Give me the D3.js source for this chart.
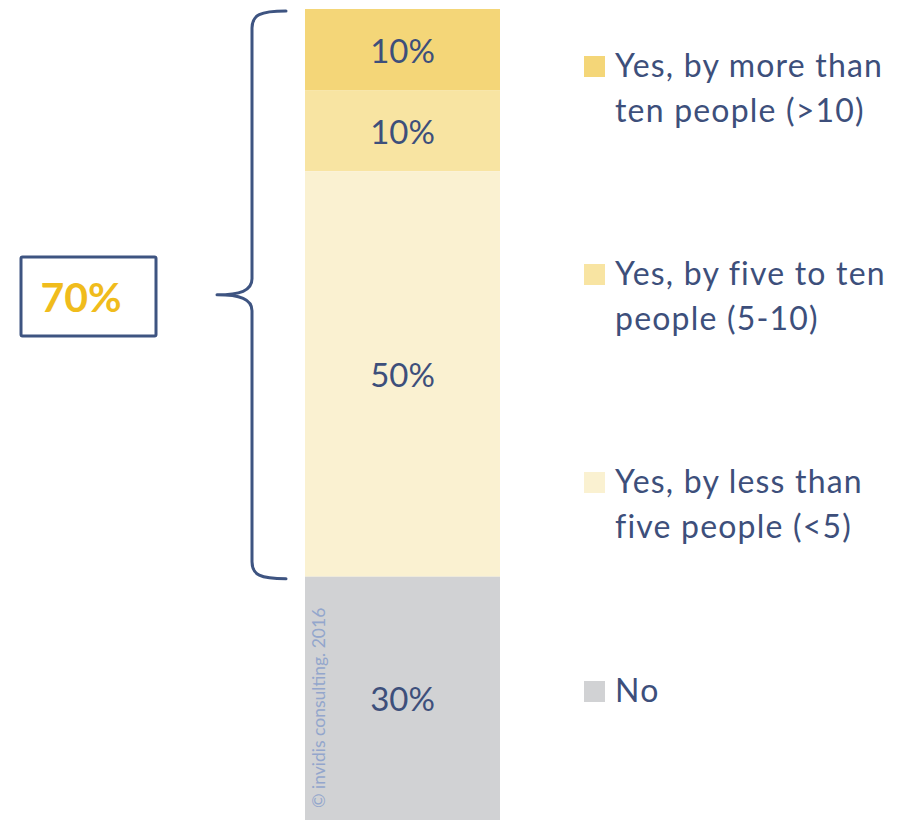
<!DOCTYPE html>
<html>
<head>
<meta charset="utf-8">
<script src="https://cdn.jsdelivr.net/npm/d3@7"></script>
<style>
  html, body { margin: 0; padding: 0; background: #fff; }
  svg { display: block; }
  text { font-family: Lato, "Open Sans", sans-serif; }
</style>
</head>
<body>
<svg id="chart" width="904" height="820"></svg>
<script>
// ---- data ----
const categories = [">10", "5-10", "<5", "No"];
const values = [10, 10, 50, 30];
const valueLabels = ["10%", "10%", "50%", "30%"];
const legendLines = [
  ["Yes, by more than", "ten people (>10)"],
  ["Yes, by five to ten", "people (5-10)"],
  ["Yes, by less than", "five people (<5)"],
  ["No"]
];
const colors = ["#f4d678", "#f8e4a2", "#faf1d1", "#d1d2d4"];
const yesTotalLabel = "70%";
const bracedCount = 3; // first three categories are "Yes"
const watermark = "© invidis consulting. 2016";

// ---- layout ----
const svg = d3.select("#chart");
const textColor = "#3d4f7b";
const navy = "#3e5481";

const y = d3.scaleLinear().domain([0, 100]).range([9, 820]);
const x = d3.scaleBand().domain(["bar"]).range([305, 500]).padding(0);

let acc = 0;
const segs = values.map((v, i) => {
  const s = { cat: categories[i], v, y0: acc, y1: acc + v, label: valueLabels[i], color: colors[i] };
  acc += v;
  return s;
});

// bars
svg.selectAll("rect.seg").data(segs).join("rect")
  .attr("class", "seg")
  .attr("x", x("bar"))
  .attr("width", x.bandwidth())
  .attr("y", d => y(d.y0))
  .attr("height", d => y(d.y1) - y(d.y0))
  .attr("fill", d => d.color);

// value labels
svg.selectAll("text.val").data(segs).join("text")
  .attr("class", "val")
  .attr("x", x("bar") + x.bandwidth() / 2)
  .attr("y", d => (y(d.y0) + y(d.y1)) / 2 + 13)
  .attr("text-anchor", "middle")
  .attr("font-size", 33)
  .attr("fill", textColor)
  .text(d => d.label);

// watermark
const wmX = x("bar") + 20;
svg.append("text")
  .attr("transform", `translate(${wmX},${y(100) - 12}) rotate(-90)`)
  .attr("font-size", 17.5)
  .attr("fill", "#93a6cc")
  .text(watermark);

// brace
const bTop = y(0) + 2;
const bBot = y(d3.sum(values.slice(0, bracedCount))) + 2;
const bMid = (bTop + bBot) / 2;
const bx = 252, bEnd = 286, bTip = 217, r = 17;
const bracePath = [
  `M${bEnd},${bTop}`,
  `C${bx + 8},${bTop} ${bx},${bTop + 4} ${bx},${bTop + r}`,
  `L${bx},${bMid - 16}`,
  `C${bx},${bMid - 4} ${bx - 12},${bMid} ${bTip},${bMid}`,
  `C${bx - 12},${bMid} ${bx},${bMid + 4} ${bx},${bMid + 16}`,
  `L${bx},${bBot - r}`,
  `C${bx},${bBot - 4} ${bx + 8},${bBot} ${bEnd},${bBot}`
].join(" ");
svg.append("path")
  .attr("d", bracePath)
  .attr("fill", "none")
  .attr("stroke", navy)
  .attr("stroke-width", 3)
  .attr("stroke-linecap", "round")
  .attr("stroke-linejoin", "round");

// total box
svg.append("rect")
  .attr("x", 21).attr("y", 257).attr("width", 135).attr("height", 79)
  .attr("rx", 1.5)
  .attr("fill", "#fff")
  .attr("stroke", navy)
  .attr("stroke-width", 3);
svg.append("text")
  .attr("x", 81).attr("y", 312)
  .attr("text-anchor", "middle")
  .attr("font-size", 41)
  .attr("font-weight", "bold")
  .attr("fill", "#f0bc1c")
  .text(yesTotalLabel);

// legend
const legendTop = [56, 264, 472, 681];
const lg = svg.selectAll("g.leg").data(legendLines).join("g")
  .attr("class", "leg")
  .attr("transform", (d, i) => `translate(584,${legendTop[i]})`);
lg.append("rect")
  .attr("width", 21).attr("height", 21)
  .attr("fill", (d, i) => colors[i]);
lg.each(function(lines) {
  const t = d3.select(this).append("text")
    .attr("font-size", 32)
    .attr("letter-spacing", 1.2)
    .attr("fill", textColor);
  lines.forEach((ln, j) => {
    t.append("tspan").attr("x", 31).attr("y", 21 + j * 45).text(ln);
  });
});
</script>
</body>
</html>
